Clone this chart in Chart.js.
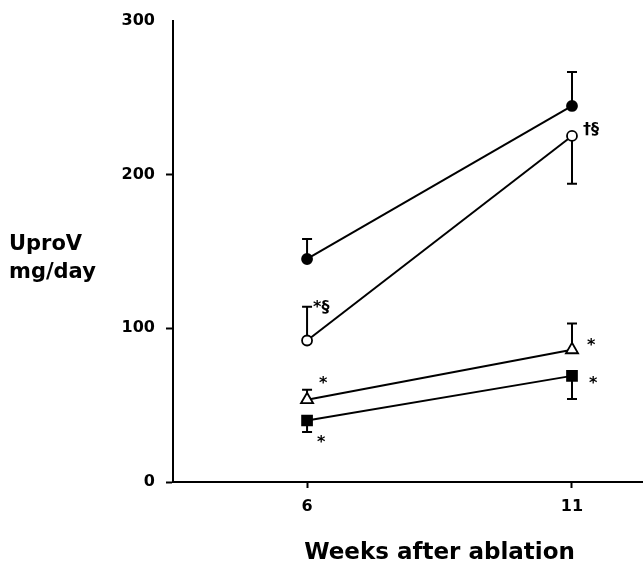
<!DOCTYPE html>
<html>
<head>
<meta charset="utf-8">
<script src="https://cdn.jsdelivr.net/npm/chart.js@4"></script>
<style>
    html, body { margin: 0; background: #fff; overflow: hidden; }
</style>
</head>
<body>
<canvas id="uprovChart" width="643" height="567"></canvas>
<script>
// weeks after ablation
const weeks = [6, 11];
const yTicks = [0, 100, 200, 300];

// mean UproV (mg/day) per group
const filledCircle = [145, 244.5];
const openCircle = [92, 225];
const openTriangle = [53.5, 86];
const filledSquare = [40, 69];

// error bar ends (drawn one way only, as in the figure)
const filledCircleErr = [158, 266.5];
const openCircleErr = [114, 194];
const openTriangleErr = [60, 103];
const filledSquareErr = [32.5, 54];

// significance marks next to points
const openCircleMarks = ['*§', '†§'];
const openTriangleMarks = ['*', '*'];
const filledSquareMarks = ['*', '*'];

const FONT = '"DejaVu Sans", sans-serif';

// marker radius per style (rect/triangle need more to look the same size)
const markerSize = { circle: 5, triangle: 7, rect: 7 };

function toXY(vals) {
    return weeks.map((w, i) => ({ x: w, y: vals[i] }));
}

function series(vals, style, fill, err) {
    return {
        data: toXY(vals),
        err: err,
        borderColor: '#000',
        borderWidth: 2,
        pointStyle: style,
        pointRadius: markerSize[style],
        pointBackgroundColor: fill,
        pointBorderColor: '#000',
        pointBorderWidth: 1.8,
        tension: 0
    };
}

// error bars + asterisks etc
const extrasPlugin = {
    id: 'extras',
    beforeDatasetsDraw(chart) {
        const ctx = chart.ctx;
        const xs = chart.scales.x, ys = chart.scales.y;
        ctx.save();
        ctx.strokeStyle = '#000';
        ctx.lineWidth = 2;
        chart.data.datasets.forEach(ds => {
            ds.data.forEach((p, i) => {
                const px = xs.getPixelForValue(p.x);
                const py = ys.getPixelForValue(p.y);
                const pe = ys.getPixelForValue(ds.err[i]);
                ctx.beginPath();
                ctx.moveTo(px, py);
                ctx.lineTo(px, pe);
                ctx.moveTo(px - 5, pe);
                ctx.lineTo(px + 5, pe);
                ctx.stroke();
            });
        });
        ctx.restore();
    },
    afterDraw(chart) {
        const ctx = chart.ctx;
        const xs = chart.scales.x, ys = chart.scales.y;
        ctx.save();
        ctx.fillStyle = '#000';
        ctx.textBaseline = 'middle';
        ctx.textAlign = 'left';
        ctx.font = 'bold 16px ' + FONT;

        const at = (w, v) => [xs.getPixelForValue(w), ys.getPixelForValue(v)];
        let p;
        p = at(weeks[0], openCircleErr[0]); ctx.fillText(openCircleMarks[0], p[0] + 6, p[1] + 1);
        p = at(weeks[1], openCircle[1]); ctx.fillText(openCircleMarks[1], p[0] + 11, p[1] - 6);
        p = at(weeks[0], openTriangle[0]); ctx.fillText(openTriangleMarks[0], p[0] + 12, p[1] - 16);
        p = at(weeks[1], openTriangle[1]); ctx.fillText(openTriangleMarks[1], p[0] + 15, p[1] - 4);
        p = at(weeks[0], filledSquare[0]); ctx.fillText(filledSquareMarks[0], p[0] + 10, p[1] + 22);
        p = at(weeks[1], filledSquare[1]); ctx.fillText(filledSquareMarks[1], p[0] + 17, p[1] + 8);

        // y title, horizontal
        ctx.font = 'bold 21px ' + FONT;
        ctx.fillText('UproV', 9, 245);
        ctx.fillText('mg/day', 9, 273);

        // x title, centred under the two ticks
        ctx.textAlign = 'center';
        ctx.font = 'bold 23px ' + FONT;
        const cx = (xs.getPixelForValue(weeks[0]) + xs.getPixelForValue(weeks[1])) / 2;
        ctx.fillText('Weeks after ablation', cx, 553);
        ctx.restore();
    }
};

const chart = new Chart(document.getElementById('uprovChart'), {
    type: 'line',
    data: {
        datasets: [
            series(filledCircle, 'circle', '#000', filledCircleErr),
            series(openCircle, 'circle', '#fff', openCircleErr),
            series(openTriangle, 'triangle', '#fff', openTriangleErr),
            series(filledSquare, 'rect', '#000', filledSquareErr)
        ]
    },
    options: {
        responsive: false,
        animation: false,
        layout: { autoPadding: false, padding: { top: 16, left: 0, right: 0, bottom: 0 } },
        plugins: {
            legend: { display: false },
            tooltip: { enabled: false }
        },
        scales: {
            x: {
                type: 'linear',
                min: 3.47,
                max: 12.34,
                afterBuildTicks: axis => { axis.ticks = weeks.map(v => ({ value: v })); },
                afterFit: axis => { axis.height = 85; axis.paddingLeft = 0; axis.paddingRight = 0; },
                border: { color: '#000', width: 2 },
                grid: { drawOnChartArea: false, tickLength: 6, tickColor: '#000', tickWidth: 2 },
                ticks: { color: '#000', padding: 9, font: { family: FONT, size: 16, weight: 'bold' } }
            },
            y: {
                min: 0,
                max: 300,
                afterBuildTicks: axis => { axis.ticks = yTicks.map(v => ({ value: v })); },
                afterFit: axis => { axis.width = 173; },
                border: { color: '#000', width: 2 },
                grid: {
                    drawOnChartArea: false,
                    tickLength: 7,
                    tickWidth: 2,
                    tickColor: c => (c.tick && c.tick.value === 300) ? 'rgba(0,0,0,0)' : '#000'
                },
                ticks: { color: '#000', padding: 11, font: { family: FONT, size: 16, weight: 'bold' } }
            }
        }
    },
    plugins: [extrasPlugin]
});
</script>
</body>
</html>
